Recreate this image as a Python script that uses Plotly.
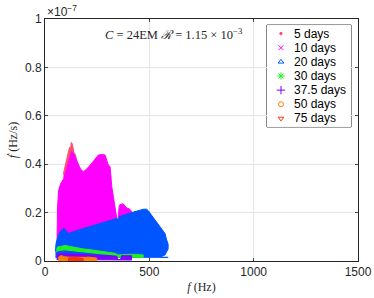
import plotly.graph_objects as go

# ---- data (frequency in Hz, fdot in units of 1e-7 Hz/s) ----
series_names = ["5 days", "10 days", "20 days", "30 days", "37.5 days", "50 days", "75 days"]
series_colors = ["#ff4d73", "#ff00ff", "#0055ff", "#22ee22", "#8000ff", "#ff8000", "#ff3300"]
series_symbols = ["circle", "x-thin-open", "triangle-up-open", "asterisk-open",
                  "cross-thin-open", "circle-open", "triangle-down-open"]
series_sizes = [2.5, 5, 5, 6, 6, 5, 5]

f_5d = [88, 95, 105, 112, 118, 122, 126, 130, 134, 138, 145, 150]
up_5d = [0.36, 0.39, 0.42, 0.45, 0.47, 0.46, 0.49, 0.485, 0.47, 0.45, 0.44, 0.42]
lo_5d = [0.30, 0.30, 0.30, 0.30, 0.30, 0.30, 0.30, 0.30, 0.30, 0.30, 0.30, 0.30]

f_10d = [57, 60, 65, 75, 90, 105, 120, 128, 140, 155, 170, 184, 200, 220, 240, 256,
         272, 288, 303, 312, 320, 328, 336, 344, 350, 356, 365, 375, 390, 405, 415]
up_10d = [0.03, 0.22, 0.29, 0.32, 0.34, 0.38, 0.43, 0.452, 0.44, 0.41, 0.38, 0.369, 0.38,
          0.40, 0.42, 0.438, 0.44, 0.438, 0.397, 0.39, 0.307, 0.26, 0.21, 0.176, 0.17,
          0.23, 0.235, 0.236, 0.22, 0.215, 0.205]
lo_10d = [0.03] * len(f_10d)

f_20d = [50, 53, 62, 72, 91, 112, 160, 216, 280, 344, 350, 356, 400, 440, 471, 487,
         495, 510, 527, 551, 575, 583, 590, 590, 583, 575, 560]
up_20d = [0.04, 0.073, 0.10, 0.121, 0.135, 0.114, 0.128, 0.142, 0.158, 0.176, 0.17,
          0.183, 0.196, 0.205, 0.214, 0.214, 0.208, 0.19, 0.169, 0.142, 0.114, 0.087,
          0.07, 0.05, 0.035, 0.025, 0.02]
lo_20d = [0.015] * len(f_20d)

f_30d = [55, 60, 75, 96, 120, 150, 184, 220, 264, 300, 335, 350, 380, 407, 440, 471]
up_30d = [0.045, 0.058, 0.060, 0.065, 0.060, 0.054, 0.050, 0.046, 0.041, 0.038, 0.032,
          0.025, 0.027, 0.028, 0.027, 0.025]
lo_30d = [0.036, 0.042, 0.044, 0.046, 0.044, 0.040, 0.037, 0.034, 0.030, 0.028, 0.023,
          0.016, 0.015, 0.015, 0.015, 0.015]

f_37d = [56, 70, 100, 150, 200, 250, 300, 344, 350, 362, 367, 390, 415]
up_37d = [0.028, 0.030, 0.030, 0.028, 0.025, 0.024, 0.022, 0.020, 0.006, 0.006, 0.022,
          0.022, 0.022]
lo_37d = [0.006, 0.005, 0.004, 0.004, 0.004, 0.004, 0.005, 0.006, 0.006, 0.006, 0.004,
          0.004, 0.004]

f_50d = [63, 70, 80, 92, 110, 140, 170, 192, 210, 230, 248]
up_50d = [0.012, 0.020, 0.022, 0.018, 0.016, 0.015, 0.014, 0.015, 0.016, 0.015, 0.012]
lo_50d = [0.002, 0.001, 0.001, 0.001, 0.001, 0.001, 0.001, 0.001, 0.001, 0.001, 0.002]

f_75d = [110, 120, 135, 150, 165, 183]
up_75d = [0.010, 0.014, 0.015, 0.015, 0.013, 0.010]
lo_75d = [0.0, 0.0, 0.0, 0.0, 0.0, 0.0]

regions = [(f_5d, up_5d, lo_5d), (f_10d, up_10d, lo_10d), (f_20d, up_20d, lo_20d),
           (f_30d, up_30d, lo_30d), (f_37d, up_37d, lo_37d), (f_50d, up_50d, lo_50d),
           (f_75d, up_75d, lo_75d)]

x_ticks = [0, 500, 1000, 1500]
y_ticks = [0, 0.2, 0.4, 0.6, 0.8, 1.0]
y_tick_labels = ["0", "0.2", "0.4", "0.6", "0.8", "1"]

fig = go.Figure()

for (fx, up, lo), name, col in zip(regions, series_names, series_colors):
    fig.add_trace(go.Scatter(
        x=list(fx) + list(fx)[::-1], y=list(up) + list(lo)[::-1],
        fill="toself", fillcolor=col, mode="lines",
        line=dict(color=col, width=1), name=name, showlegend=False,
        hoverinfo="skip", xaxis="x", yaxis="y"))

# custom legend (markers on inset axes)
for i, (name, col, sym, sz) in enumerate(zip(series_names, series_colors, series_symbols, series_sizes)):
    fig.add_trace(go.Scatter(
        x=[0.167], y=[i], mode="markers", showlegend=False, hoverinfo="skip",
        marker=dict(symbol=sym, color=col, size=sz, line=dict(color=col, width=1)),
        xaxis="x2", yaxis="y2"))
    fig.add_annotation(x=0.30, y=i, xref="x2", yref="y2", text=name, showarrow=False,
                       xanchor="left", yanchor="middle",
                       font=dict(family="Liberation Sans, Arial", size=12, color="#000000"))

fig.add_shape(type="rect", xref="x2 domain", yref="y2 domain", x0=0, x1=1, y0=0, y1=1,
              line=dict(color="#262626", width=1), fillcolor="white", layer="below")

axis_font = dict(family="Liberation Sans, Arial", size=12, color="#262626")

fig.update_layout(
    width=374, height=298,
    margin=dict(l=45, r=16, t=19, b=37, autoexpand=False),
    paper_bgcolor="white", plot_bgcolor="white",
    xaxis=dict(range=[0, 1500], tickvals=x_ticks, ticks="inside", ticklen=3,
               showgrid=True, gridcolor="#e5e5e5", gridwidth=1, automargin=False,
               showline=True, linecolor="#262626", linewidth=1, mirror="ticks",
               tickfont=axis_font, zeroline=False,
               title=dict(text="<i>f</i> (Hz)", standoff=4,
                          font=dict(family="Liberation Serif, DejaVu Serif", size=12, color="#262626"))),
    yaxis=dict(range=[0, 1.0], tickvals=y_ticks, ticktext=y_tick_labels, ticks="inside", ticklen=3,
               showgrid=True, gridcolor="#e5e5e5", gridwidth=1, automargin=False,
               showline=True, linecolor="#262626", linewidth=1, mirror="ticks",
               tickfont=axis_font, zeroline=False,
               title=dict(text="<i>ḟ</i> (Hz/s)", standoff=4,
                          font=dict(family="Liberation Serif, DejaVu Serif", size=12, color="#262626"))),
    xaxis2=dict(domain=[0.709, 0.978], range=[0, 1], visible=False, anchor="y2", fixedrange=True),
    yaxis2=dict(domain=[0.554, 0.975], range=[6.6, -0.6], visible=False, anchor="x2", fixedrange=True),
    showlegend=False,
)

fig.add_annotation(x=0, y=1.0, xref="paper", yref="paper", xanchor="left", yanchor="bottom",
                   text="×10<sup>−7</sup>", showarrow=False, yshift=-2,
                   font=dict(family="Liberation Sans, Arial", size=12, color="#262626"))
fig.add_annotation(x=(174 - 45) / 313, y=(261 - 34) / 242, xref="paper", yref="paper",
                   text="<i>C</i> = 24EM <i>ℛ</i> = 1.15 × 10<sup>−3</sup>", showarrow=False,
                   xanchor="center", yanchor="middle",
                   font=dict(family="Liberation Serif, DejaVu Serif", size=12.5, color="#262626"))

fig.write_html("out.html", config={"displayModeBar": False},
               post_script="document.body.style.margin='0';document.body.style.overflow='hidden';")
